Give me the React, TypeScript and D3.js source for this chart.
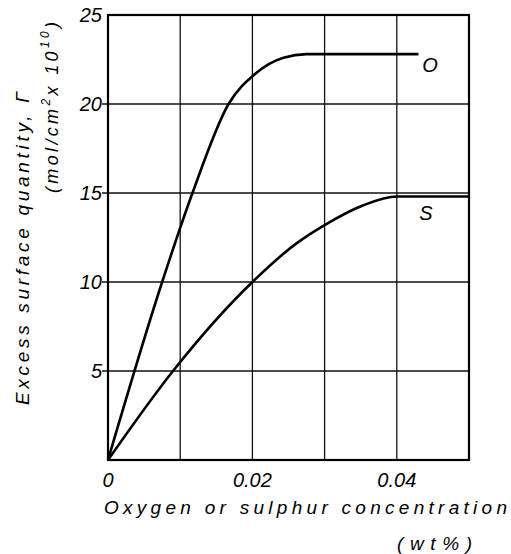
import React from 'react';
import * as d3 from 'd3';

const xTicks = [0, 0.02, 0.04];
const xTickLabels = ['0', '0.02', '0.04'];
const xGrid = [0.01, 0.02, 0.03, 0.04];
const yTicks = [5, 10, 15, 20, 25];
const yGrid = [5, 10, 15, 20];

const oxygenX = [0, 0.0075, 0.0117, 0.0167, 0.0204, 0.0243, 0.0275, 0.043];
const oxygenY = [0, 10, 15, 20, 21.7, 22.6, 22.8, 22.8];
const sulphurX = [0, 0.009, 0.02, 0.0262, 0.03, 0.0353, 0.04, 0.05];
const sulphurY = [0, 5, 10, 12.2, 13.2, 14.3, 14.8, 14.8];

const W = 511;
const H = 554;
const font = "'Liberation Sans', Arial, sans-serif";

export default function App() {
  const x = d3.scaleLinear().domain([0, 0.05]).range([108, 469]);
  const y = d3.scaleLinear().domain([0, 25]).range([460, 15]);

  const line = d3
    .line<[number, number]>()
    .x((d) => x(d[0]))
    .y((d) => y(d[1]))
    .curve(d3.curveMonotoneX);

  const oPts = oxygenX.map((v, i) => [v, oxygenY[i]] as [number, number]);
  const sPts = sulphurX.map((v, i) => [v, sulphurY[i]] as [number, number]);

  return (
    <svg
      width={W}
      height={H}
      style={{ position: 'absolute', left: 0, top: 0, background: '#fff' }}
      fontFamily={font}
      fontStyle="italic"
    >
      {/* grid */}
      {xGrid.map((v) => (
        <line key={'gx' + v} x1={x(v)} x2={x(v)} y1={y(0)} y2={y(25)} stroke="#111" strokeWidth={1.3} />
      ))}
      {yGrid.map((v) => (
        <line key={'gy' + v} x1={x(0) - 6} x2={x(0.05)} y1={y(v)} y2={y(v)} stroke="#111" strokeWidth={1.3} />
      ))}
      {/* frame */}
      <rect x={x(0)} y={y(25)} width={x(0.05) - x(0)} height={y(0) - y(25)} fill="none" stroke="#000" strokeWidth={2.2} />

      {/* curves */}
      <path d={line(oPts) || ''} fill="none" stroke="#000" strokeWidth={2.6} />
      <path d={line(sPts) || ''} fill="none" stroke="#000" strokeWidth={2.6} />

      {/* y tick labels */}
      {yTicks.map((v) => (
        <text key={'ty' + v} x={x(0) - 6} y={y(v)} dy="0.36em" textAnchor="end" fontSize={20} fill="#000">
          {v}
        </text>
      ))}
      {/* x tick labels */}
      {xTicks.map((v, i) => (
        <text key={'tx' + v} x={x(v)} y={487} textAnchor="middle" fontSize={20} fill="#000">
          {xTickLabels[i]}
        </text>
      ))}

      {/* curve labels */}
      <text x={430} y={72} textAnchor="middle" fontSize={20} fill="#000">O</text>
      <text x={426} y={220} textAnchor="middle" fontSize={20} fill="#000">S</text>

      {/* x title */}
      <text x={104} y={514} fontSize={19} fill="#000" textLength={403} lengthAdjust="spacing">
        Oxygen or sulphur concentration
      </text>
      <text x={397} y={550} fontSize={19} fill="#000" textLength={75} lengthAdjust="spacing">
        (wt%)
      </text>

      {/* y title */}
      <text
        transform="translate(29,405) rotate(-90)"
        fontSize={19}
        fill="#000"
        textLength={313}
        lengthAdjust="spacing"
      >
        Excess surface quantity, Γ
      </text>
      <text transform="translate(58,193) rotate(-90)" fontSize={18} fill="#000" textLength={171} lengthAdjust="spacing">
        <tspan>(mol/cm</tspan>
        <tspan dy={-8} fontSize={12}>2</tspan>
        <tspan dy={8}>x 10</tspan>
        <tspan dy={-9} fontSize={12}>10</tspan>
        <tspan dy={9}>)</tspan>
      </text>
    </svg>
  );
}
